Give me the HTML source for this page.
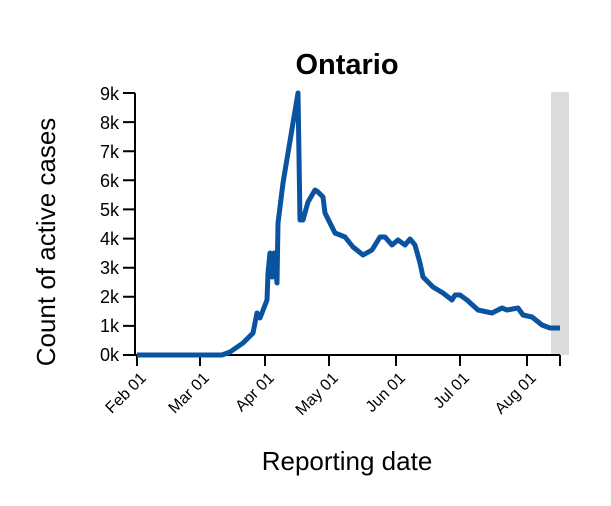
<!DOCTYPE html>
<html><head><meta charset="utf-8"><style>html,body{margin:0;padding:0;background:#fff}svg{display:block}</style></head>
<body>
<svg width="611" height="506" viewBox="0 0 611 506" xmlns="http://www.w3.org/2000/svg" font-family="Liberation Sans, sans-serif">
<rect width="611" height="506" fill="#fff"/>
<rect x="551" y="92" width="18" height="263" fill="#dcdcdc"/>
<text x="347" y="74" font-size="29" font-weight="bold" text-anchor="middle">Ontario</text>
<g stroke="#000" stroke-width="2" fill="none">
<path d="M135,93V355H560"/>
<path d="M123,93h12M123,122.1h12M123,151.2h12M123,180.3h12M123,209.4h12M123,238.6h12M123,267.7h12M123,296.8h12M123,325.9h12M123,355h12"/>
<path d="M137,355v11M200,355v11M265,355v11M329,355v11M396,355v11M460,355v11M527,355v11M560,355v11"/>
</g>
<g font-size="18" text-anchor="end" fill="#000">
<text x="119" y="100">9k</text><text x="119" y="129">8k</text><text x="119" y="158">7k</text><text x="119" y="187">6k</text><text x="119" y="216">5k</text><text x="119" y="245">4k</text><text x="119" y="274">3k</text><text x="119" y="303">2k</text><text x="119" y="332">1k</text><text x="119" y="361">0k</text>
</g>
<g font-size="16" text-anchor="end" fill="#000">
<text transform="translate(147,379) rotate(-45)">Feb 01</text>
<text transform="translate(210,379) rotate(-45)">Mar 01</text>
<text transform="translate(275,379) rotate(-45)">Apr 01</text>
<text transform="translate(339,379) rotate(-45)">May 01</text>
<text transform="translate(406,379) rotate(-45)">Jun 01</text>
<text transform="translate(470,379) rotate(-45)">Jul 01</text>
<text transform="translate(537,379) rotate(-45)">Aug 01</text>
</g>
<text x="347" y="470" font-size="26" text-anchor="middle">Reporting date</text>
<text transform="translate(55,242) rotate(-90)" font-size="26" text-anchor="middle">Count of active cases</text>
<polyline fill="none" stroke="#0a53a0" stroke-width="5" stroke-linejoin="round" points="137,355 222,355 230,352 243,343 253,333 257,313 260,318 267,300 268,273 270,253 272,277 274,253 277,283 278,223 283,183 298,93 300,220 303,220 308,202 315,190 318,192 323,197 325,213 335,233 345,237 353,247 363,255 372,250 380,237 385,237 392,245 398,240 405,245 410,239 415,245 420,263 423,277 433,287 443,293 452,300 455,295 460,295 467,300 478,310 492,313 502,308 507,310 518,308 523,315 532,317 542,325 550,328 560,328"/>
</svg>
</body></html>
